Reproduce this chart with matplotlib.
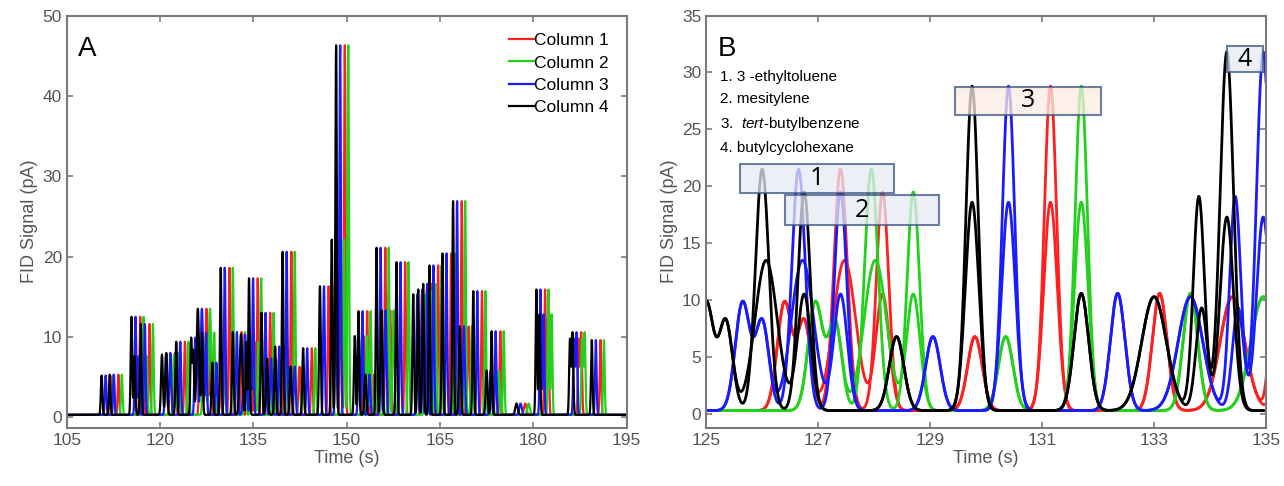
import numpy as np
import matplotlib.pyplot as plt
from matplotlib.patches import Rectangle

plt.rcParams['font.family'] = ['Liberation Sans', 'DejaVu Sans']
plt.rcParams['mathtext.fontset'] = 'custom'
plt.rcParams['mathtext.rm'] = 'Liberation Sans'
plt.rcParams['mathtext.it'] = 'Liberation Sans:italic'

# columns (legend order) and retention offset relative to column 4 (s)
col_names = ['Column 1', 'Column 2', 'Column 3', 'Column 4']
col_colors = ['#ff1f1f', '#22d11a', '#1a1aff', '#000000']
col_shift = [1.40, 1.95, 0.65, 0.0]

# peaks of the run shown in panel A (column 4 retention time, height pA, width s)
runA_t = [110.6, 111.9, 115.4, 115.9, 116.9, 120.3, 121.0, 122.6, 125.0, 125.35,
          126.07, 126.75, 128.4, 129.75, 131.7, 133.0, 133.85, 134.3, 136.3, 137.2,
          138.5, 139.7, 141.0, 143.0, 145.7, 147.6, 148.3, 151.3, 151.9, 153.0,
          154.8, 155.6, 158.0, 160.7, 161.5, 162.3, 163.3, 165.4, 167.1, 168.2,
          170.35, 172.5, 173.3, 177.3, 180.5, 181.0, 185.9, 186.3, 189.4]
runA_h = [4.9, 5.0, 12.2, 7.3, 11.3, 7.5, 7.7, 9.1, 9.5, 7.8,
          13.2, 10.2, 6.5, 18.3, 10.3, 10.0, 9.0, 17.0, 12.7, 7.0,
          8.5, 20.3, 6.0, 8.3, 16.0, 21.8, 46.0, 9.8, 12.9, 5.0,
          20.8, 13.0, 19.0, 15.0, 15.6, 16.3, 18.6, 20.1, 26.6, 11.0,
          15.4, 5.5, 10.4, 1.4, 15.6, 12.5, 9.4, 10.2, 9.3]
runA_w = [0.12, 0.12, 0.12, 0.12, 0.12, 0.15, 0.15, 0.13, 0.13, 0.12,
          0.2, 0.12, 0.13, 0.12, 0.13, 0.22, 0.1, 0.12, 0.13, 0.15,
          0.13, 0.12, 0.15, 0.13, 0.13, 0.12, 0.12, 0.13, 0.12, 0.15,
          0.12, 0.15, 0.12, 0.13, 0.13, 0.13, 0.12, 0.12, 0.12, 0.15,
          0.12, 0.15, 0.12, 0.2, 0.12, 0.12, 0.13, 0.13, 0.12]

# second, stronger run overlaid in panel B
runB_t = [125.0, 125.35, 126.0, 126.75, 128.4, 129.75, 131.7, 133.0, 133.8, 134.3]
runB_h = [9.5, 7.8, 21.2, 19.2, 6.5, 28.5, 10.3, 10.0, 18.8, 31.5]
runB_w = [0.13, 0.12, 0.12, 0.11, 0.13, 0.11, 0.13, 0.22, 0.1, 0.12]

compounds = ['1. 3 -ethyltoluene', '2. mesitylene', '3.  $\\it{tert}$-butylbenzene',
             '4. butylcyclohexane']
baseline = 0.3


def trace(t, times, heights, widths, shift):
    y = np.full_like(t, baseline)
    for t0, h, w in zip(times, heights, widths):
        y += h * np.exp(-0.5 * ((t - t0 - shift) / w) ** 2)
    return y


def style_axes(ax):
    for s in ax.spines.values():
        s.set_color('#7a7a7a')
        s.set_linewidth(1.5)
    ax.tick_params(direction='in', top=True, right=True, length=4, width=1.2,
                   color='#7a7a7a', labelcolor='#555555', labelsize=12.5)
    ax.set_xlabel('Time (s)', fontsize=13, color='#555555', labelpad=2)
    ax.set_ylabel('FID Signal (pA)', fontsize=13, color='#555555', labelpad=3)


fig = plt.figure(figsize=(12.84, 4.86), dpi=100)
axA = fig.add_axes([0.052, 0.12, 0.436, 0.848])
axB = fig.add_axes([0.550, 0.12, 0.436, 0.848])

# Panel A
tA = np.linspace(105, 195, 18000)
for name, c, sh in zip(col_names, col_colors, col_shift):
    axA.plot(tA, trace(tA, runA_t, runA_h, runA_w, sh), color=c, lw=1.6, label=name)
axA.set_xlim(105, 195)
axA.set_ylim(-1.3, 50)
axA.set_xticks(np.arange(105, 196, 15))
axA.set_yticks(np.arange(0, 51, 10))
style_axes(axA)
axA.text(0.02, 0.95, 'A', transform=axA.transAxes, fontsize=20, va='top', ha='left')
axA.legend(loc='upper right', frameon=False, fontsize=12.5, handlelength=1.4,
           handletextpad=0.05, labelspacing=0.42, borderaxespad=0.6)

# Panel B
tB = np.linspace(125, 135, 4000)
for c, sh in zip(col_colors, col_shift):
    axB.plot(tB, trace(tB, runA_t, runA_h, runA_w, sh), color=c, lw=2)
    axB.plot(tB, trace(tB, runB_t, runB_h, runB_w, sh), color=c, lw=2)
axB.set_xlim(125, 135)
axB.set_ylim(-1.2, 35)
axB.set_xticks(np.arange(125, 136, 2))
axB.set_yticks(np.arange(0, 36, 5))
style_axes(axB)
axB.text(0.02, 0.95, 'B', transform=axB.transAxes, fontsize=20, va='top', ha='left')
axB.text(0.025, 0.868, '\n'.join(compounds), transform=axB.transAxes, fontsize=11,
         va='top', ha='left', linespacing=1.72)

# compound boxes (time range, signal range, label, fill)
boxes = [((125.6, 128.35), (19.4, 22.0), '1', '#e6ebf4'),
         ((126.4, 129.15), (16.6, 19.2), '2', '#e6ebf4'),
         ((129.45, 132.05), (26.3, 28.7), '3', '#fbece2'),
         ((134.3, 134.95), (30.0, 32.3), '4', '#e6ebf4')]
for (x0, x1), (y0, y1), lab, fc in boxes:
    axB.add_patch(Rectangle((x0, y0), x1 - x0, y1 - y0, facecolor=fc, edgecolor='#3a5583',
                            lw=1.5, zorder=3, alpha=0.75))
    axB.text((x0 + x1) / 2, (y0 + y1) / 2, lab, fontsize=18, ha='center', va='center',
             zorder=4, family=['Open Sans', 'DejaVu Sans'])

fig.savefig('out.png', dpi=100)
